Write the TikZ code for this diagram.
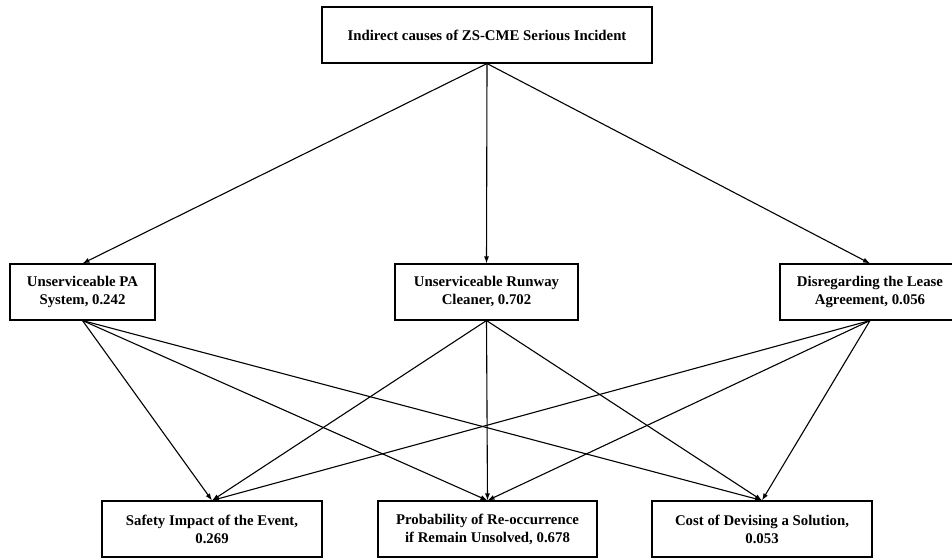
\documentclass[tikz,border=0pt]{standalone}
\usepackage{fontspec}
\setmainfont{Liberation Serif}
\usetikzlibrary{arrows.meta}
\tikzset{causebox/.style={draw=black,line width=1.1pt,fill=white,minimum height=56pt,align=center,inner sep=2pt,font=\fontsize{14.8}{18}\selectfont\bfseries},link/.style={draw=black,line width=1.1pt,-{Latex[length=7pt,width=5pt]}}}
\begin{document}
\begin{tikzpicture}[x=1pt,y=-1pt]
\useasboundingbox (0,0) rectangle (952,558);
\node[causebox,minimum width=330pt] (goal) at (487,35) {Indirect causes of ZS-CME Serious Incident};
\node[causebox,minimum width=145pt] (pa) at (82.5,292) {Unserviceable PA\\System, 0.242};
\node[causebox,minimum width=183pt] (rc) at (486.5,292) {Unserviceable Runway\\Cleaner, 0.702};
\node[causebox,minimum width=180pt] (dl) at (870,292) {Disregarding the Lease\\Agreement, 0.056};
\node[causebox,minimum width=220pt] (si) at (212,529) {Safety Impact of the Event,\\0.269};
\node[causebox,minimum width=219pt] (pr) at (487.5,529) {Probability of Re-occurrence\\if Remain Unsolved, 0.678};
\node[causebox,minimum width=220pt] (cs) at (762,529) {Cost of Devising a Solution,\\0.053};
\foreach \x in {pa,rc,dl}\draw[link] (goal.south)--(\x.north);
\foreach \y in {pa,rc,dl}
  \foreach \x in {si,pr,cs}\draw[link] (\y.south)--(\x.north);
\end{tikzpicture}
\end{document}
